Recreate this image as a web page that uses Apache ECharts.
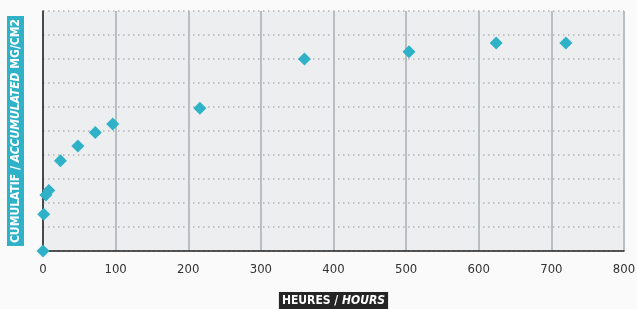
<!DOCTYPE html>
<html>
<head>
<meta charset="utf-8">
<script src="https://cdn.jsdelivr.net/npm/echarts@6/dist/echarts.min.js"></script>
<style>
  html, body { margin: 0; padding: 0; background: #fafafa; }
  #main { width: 637px; height: 309px; }
</style>
</head>
<body>
<div id="main"></div>
<script>
// heures d'exposition et valeurs cumulées (unités de grille, axe Y sans graduation)
var hours = [0, 1, 4, 8, 24, 48, 72, 96, 216, 360, 504, 624, 720];
var cumul = [0, 1.53, 2.33, 2.52, 3.76, 4.37, 4.94, 5.29, 5.95, 8.0, 8.3, 8.67, 8.67];
var xTicks = [0, 100, 200, 300, 400, 500, 600, 700, 800];

var font = '"DejaVu Sans Condensed", "Liberation Sans Narrow", sans-serif';
var teal = '#2fb2c8';

var points = [];
for (var i = 0; i < hours.length; i++) {
    points.push([hours[i], cumul[i]]);
}

var myChart = echarts.init(document.getElementById('main'));
var option = {
    backgroundColor: '#fafafa',
    animation: false,
    grid: {
        left: 43,
        right: 13,
        top: 11,
        bottom: 58,
        outerBoundsMode: 'none',
        show: true,
        backgroundColor: '#eceef0',
        borderWidth: 0
    },
    xAxis: {
        type: 'value',
        min: xTicks[0],
        max: xTicks[xTicks.length - 1],
        interval: 100,
        name: '{a|HEURES / }{b|HOURS}',
        nameLocation: 'middle',
        nameGap: 41,
        nameTextStyle: {
            backgroundColor: '#252525',
            padding: [3, 3, 2, 3],
            rich: {
                a: { color: '#fff', fontFamily: font, fontWeight: 'bold', fontSize: 12 },
                b: { color: '#fff', fontFamily: font, fontWeight: 'bold', fontStyle: 'italic', fontSize: 12 }
            }
        },
        axisLine: { show: true, lineStyle: { color: '#222', width: 1.5 } },
        axisTick: { show: false },
        axisLabel: { color: '#333', fontFamily: font, fontSize: 13, margin: 12 },
        splitLine: { show: true, lineStyle: { color: '#b3b8bd', width: 1.8 } }
    },
    yAxis: {
        type: 'value',
        min: 0,
        max: 10,
        interval: 1,
        name: '{a|CUMULATIF / }{b|ACCUMULATED}{a| MG/CM2}',
        nameLocation: 'middle',
        nameGap: 19,
        nameTextStyle: {
            backgroundColor: teal,
            padding: [3, 3, 2, 3],
            rich: {
                a: { color: '#fff', fontFamily: font, fontWeight: 'bold', fontSize: 12 },
                b: { color: '#fff', fontFamily: font, fontWeight: 'bold', fontStyle: 'italic', fontSize: 12 }
            }
        },
        axisLine: { show: true, lineStyle: { color: '#222', width: 1.5 } },
        axisTick: { show: false },
        axisLabel: { show: false },
        splitLine: {
            show: true,
            lineStyle: { color: '#b4b4b4', width: 1.5, type: [1.5, 3.5] }
        }
    },
    series: [
        {
            type: 'scatter',
            symbol: 'diamond',
            symbolSize: 13,
            clip: false,
            itemStyle: { color: teal, opacity: 1 },
            data: points
        }
    ]
};
myChart.setOption(option);
</script>
</body>
</html>
